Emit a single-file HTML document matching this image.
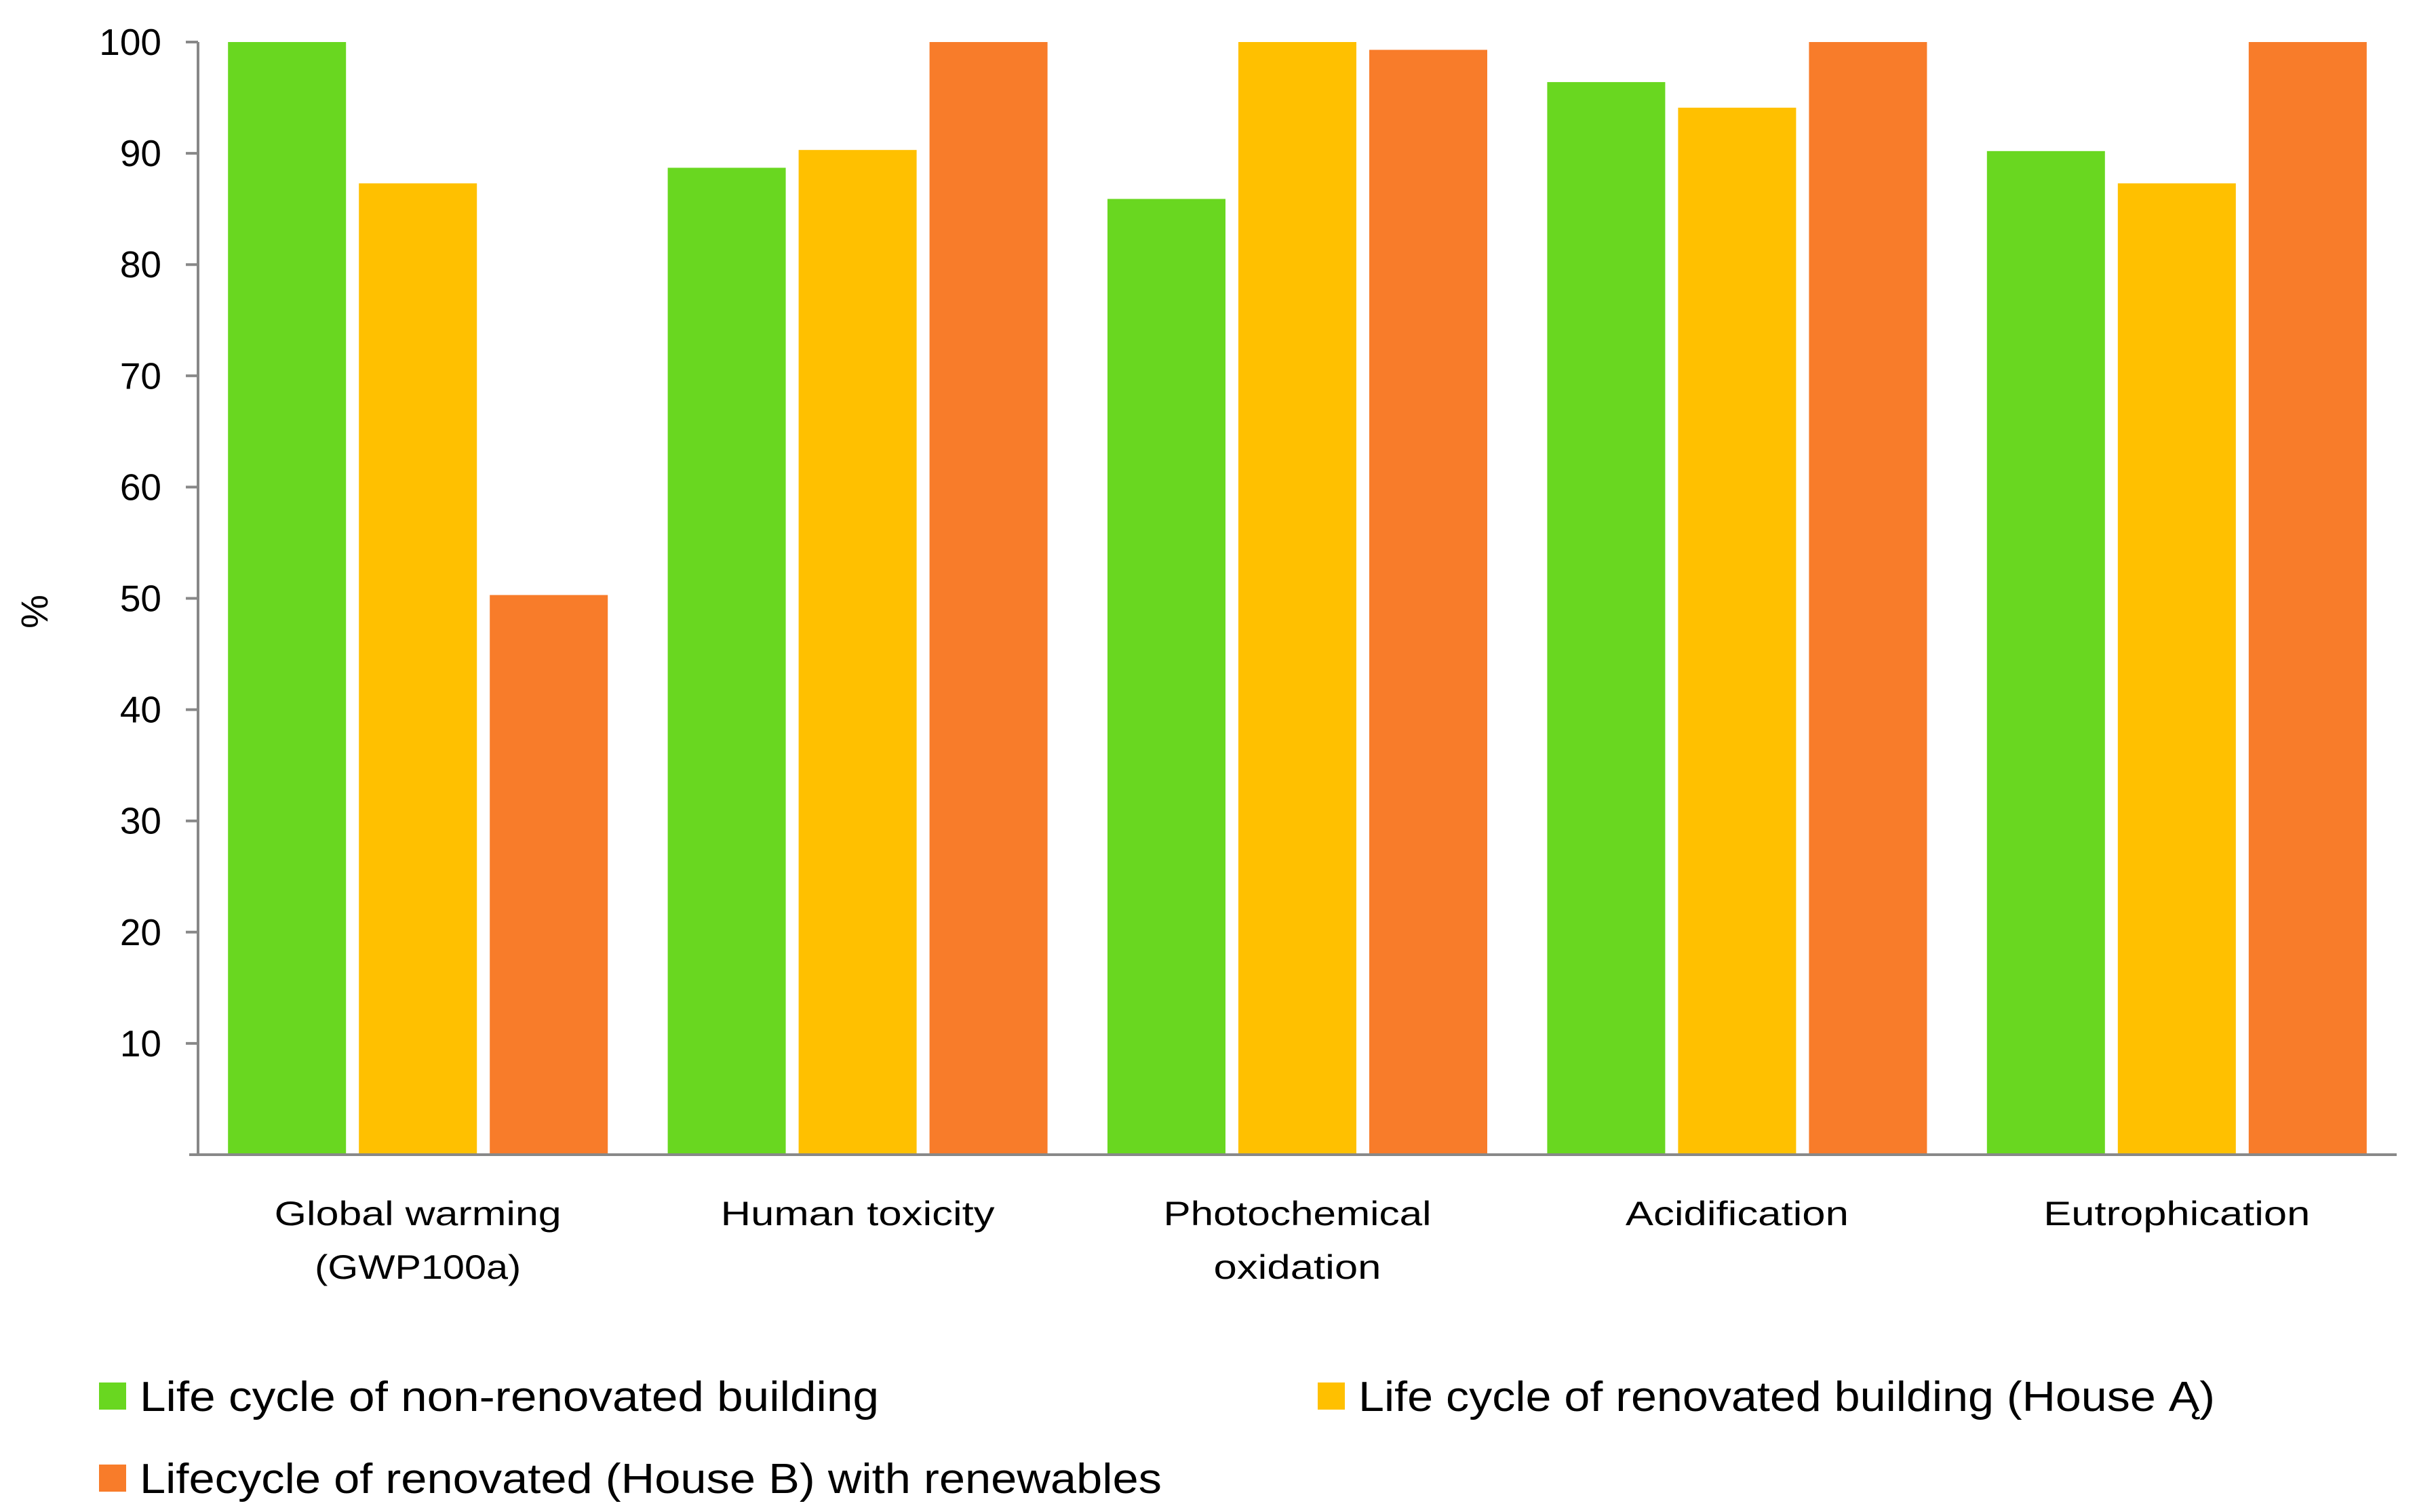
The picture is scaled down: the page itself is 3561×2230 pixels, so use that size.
<!DOCTYPE html>
<html><head><meta charset="utf-8"><style>
html,body{margin:0;padding:0;background:#fff;}
svg{display:block;font-family:"Liberation Sans",sans-serif;}
</style></head><body>
<svg id="chart" width="3561" height="2230" viewBox="0 0 3561 2230" xmlns="http://www.w3.org/2000/svg"></svg>
<script>
const categories = [["Global warming","(GWP100a)"],["Human toxicity"],["Photochemical","oxidation"],["Acidification"],["Eutrophication"]];
const catWidths = [[423,304],[404],[395,247],[329],[393]];
const seriesNames = ["Life cycle of non-renovated building","Life cycle of renovated building (House Ą)","Lifecycle of renovated (House B) with renewables"];
const nonRenovated = [100, 88.7, 85.9, 96.4, 90.2];
const renovatedA = [87.3, 90.3, 100, 94.1, 87.3];
const renovatedB = [50.3, 100, 99.3, 100, 100];
const yTicks = [10,20,30,40,50,60,70,80,90,100];

const colors = ["#69D720","#FFC000","#F87C2A"];
const series = [nonRenovated, renovatedA, renovatedB];
const NS = "http://www.w3.org/2000/svg";
const svg = document.getElementById('chart');
const X0 = 292, X1 = 3534, Y0 = 1703, Y100 = 62;
const catW = (X1 - X0) / categories.length;
const barW = 174, gap = 19;
const y = v => Y0 - (v / 100) * (Y0 - Y100);
const xBar = (c, s) => X0 + c * catW + (catW - (3 * barW + 2 * gap)) / 2 + s * (barW + gap);
function mk(tag, attrs, parent) {
  const el = document.createElementNS(NS, tag);
  for (const k in attrs) el.setAttribute(k, attrs[k]);
  (parent || svg).appendChild(el);
  return el;
}
series.forEach((vals, s) => {
  vals.forEach((v, c) => {
    const r = mk('rect', {x: xBar(c, s), y: y(v), width: barW, height: Y0 - y(v), fill: colors[s]});
    
    
  });
});
const ya = mk('line', {x1: X0, y1: Y100, x2: X0, y2: Y0, stroke: '#888', 'stroke-width': 4});


yTicks.forEach(t => {
  mk('line', {x1: X0 - 18, y1: y(t), x2: X0, y2: y(t), stroke: '#888', 'stroke-width': 4});
  const tx = mk('text', {x: 238, y: y(t) + 19, 'text-anchor': 'end', 'font-size': 55, fill: '#000'});
  tx.textContent = t;
  
  
});
const xa = mk('line', {x1: 279, y1: Y0, x2: X1, y2: Y0, stroke: '#888', 'stroke-width': 4});


categories.forEach((lines, c) => {
  const cx = X0 + (c + 0.5) * catW;
  lines.forEach((ln, i) => {
    const t = mk('text', {x: cx, y: 1807 + i * 79, 'text-anchor': 'middle', 'font-size': 50, fill: '#000', textLength: catWidths[c][i], lengthAdjust: 'spacingAndGlyphs'});
    t.textContent = ln;
    
    
  });
});
const yt = mk('text', {x: 0, y: 0, 'font-size': 56, 'text-anchor': 'middle', fill: '#000', transform: 'translate(70,902) rotate(-90)'});
yt.textContent = '%';


const legendPos = [[146, 2059, 1090], [1943, 2059, 1263], [146, 2180, 1507]];
seriesNames.forEach((n, i) => {
  const [lx, ly, tw] = legendPos[i];
  const g = mk('g', {});
  
  
  mk('rect', {x: lx, y: ly - 20, width: 40, height: 40, fill: colors[i]}, g);
  const t = mk('text', {x: lx + 60, y: ly + 22, 'font-size': 62, fill: '#000', textLength: tw, lengthAdjust: 'spacingAndGlyphs'}, g);
  t.textContent = n;
});
</script>
</body></html>
